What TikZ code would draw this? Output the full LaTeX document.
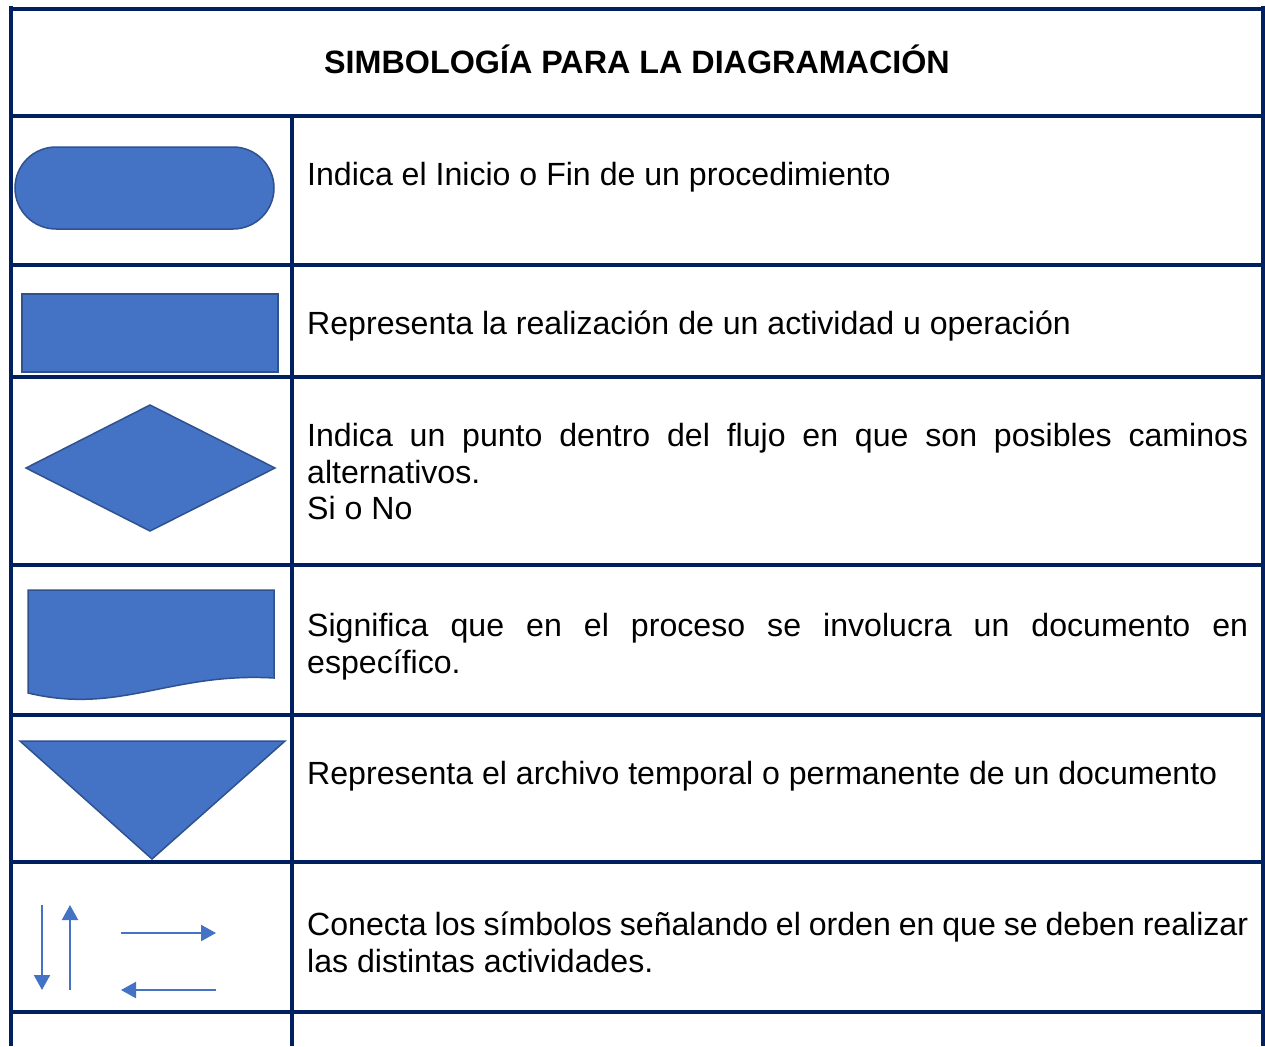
\documentclass[tikz,border=0pt]{standalone}
\usepackage{fontspec}
\setmainfont{Liberation Sans}
\usetikzlibrary{arrows.meta}
\definecolor{navy}{RGB}{0,32,96}
\definecolor{shapefill}{RGB}{68,114,196}
\definecolor{shapeline}{RGB}{47,82,143}
\tikzset{
  hline/.style={draw=navy,line width=3.8pt},
  vline/.style={draw=navy,line width=3.2pt},
  symb/.style={fill=shapefill,draw=shapeline,line width=1.5pt,line join=miter},
  txt/.style={anchor=base west,inner sep=0pt,font=\fontsize{32.1}{37}\selectfont,text=black},
  conn/.style={draw=shapefill,line width=2.2pt,-{Triangle[length=15pt,width=16pt]}}
}
\begin{document}
\begin{tikzpicture}[x=1pt,y=-1pt]
\useasboundingbox (0,0) rectangle (1265,1046);
\fill[white] (0,0) rectangle (1265,1046);
% grid
\foreach \yy in {9,116,265,377,565,715,862,1012}
  \draw[hline] (9.4,\yy) -- (1264.6,\yy);
\draw[vline] (11,6) -- (11,1046);
\draw[vline] (1263,6) -- (1263,1046);
\draw[vline] (292,116) -- (292,1046);
% header
\node[anchor=base,inner sep=0pt,font=\fontsize{32.3}{37}\selectfont\bfseries] (title) at (637,74) {SIMBOLOGÍA PARA LA DIAGRAMACIÓN};
% terminal
\draw[symb,rounded corners=41pt] (15,147) rectangle (274,229);
% process
\draw[symb] (22,294) rectangle (278,372);
% decision
\draw[symb] (26,468) -- (150,405) -- (275,468) -- (150,531) -- cycle;
% document
\draw[symb] (28,590) -- (274,590) -- (274,678) .. controls (170,672) and (120,715) .. (28,693) -- cycle;
% archive
\draw[symb] (20,741) -- (285,741) -- (152,859) -- cycle;
% connectors
\coordinate (d1) at (42,905); \coordinate (d2) at (42,990);
\coordinate (u1) at (70,990); \coordinate (u2) at (70,905);
\coordinate (r1) at (121,933); \coordinate (r2) at (216,933);
\coordinate (l1) at (216,990); \coordinate (l2) at (121,990);
\draw[conn] (d1) -- (d2);
\draw[conn] (u1) -- (u2);
\draw[conn] (r1) -- (r2);
\draw[conn] (l1) -- (l2);
% texts
\node[txt] (t1) at (307,185) {Indica el Inicio o Fin de un procedimiento};
\node[txt] (t2) at (307,334) {Representa la realización de un actividad u operación};
\node[txt] (t3a) at (307,446) {\makebox[941pt][s]{Indica un punto dentro del flujo en que son posibles caminos}};
\node[txt] (t3b) at (307,483) {alternativos.};
\node[txt] (t3c) at (307,519) {Si o No};
\node[txt] (t4a) at (307,636) {\makebox[941pt][s]{Significa que en el proceso se involucra un documento en}};
\node[txt] (t4b) at (307,673) {específico.};
\node[txt] (t5) at (307,784) {Representa el archivo temporal o permanente de un documento};
\node[txt] (t6a) at (307,935) {\makebox[941pt][s]{Conecta los símbolos señalando el orden en que se deben realizar}};
\node[txt] (t6b) at (307,972) {las distintas actividades.};
\end{tikzpicture}
\end{document}
